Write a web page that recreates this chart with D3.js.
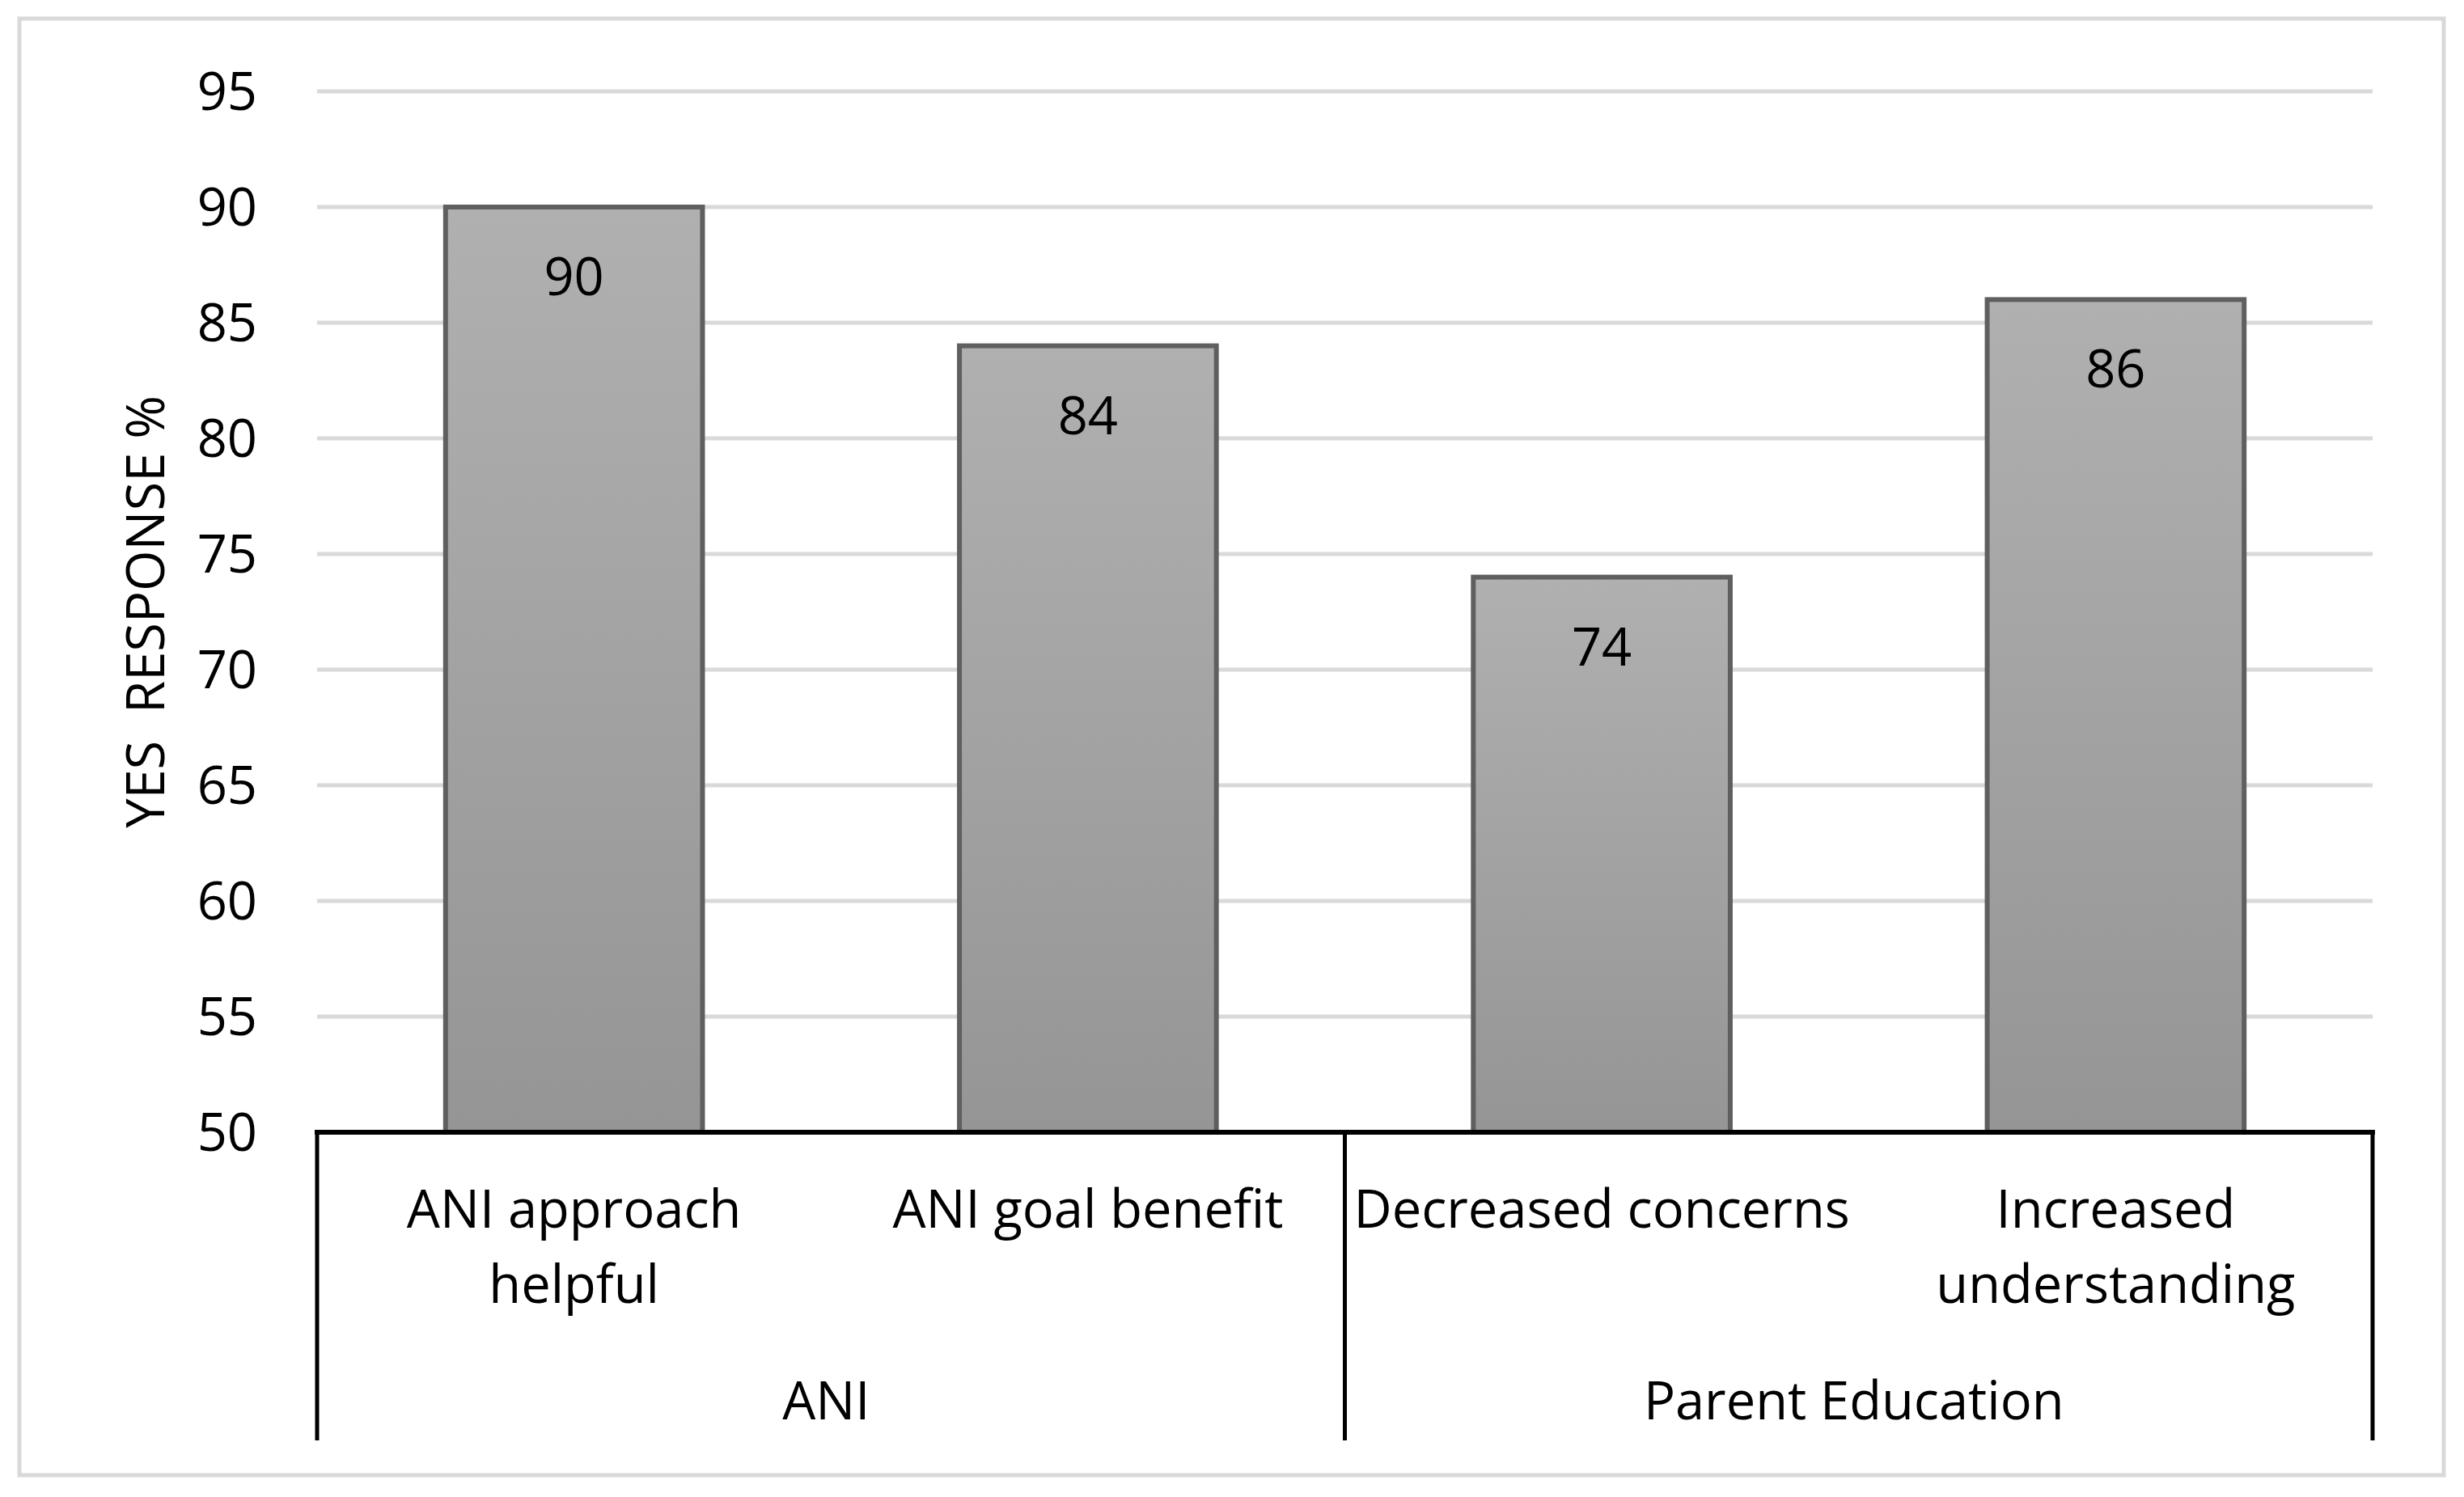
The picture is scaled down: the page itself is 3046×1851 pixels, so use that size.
<!DOCTYPE html>
<html>
<head>
<meta charset="utf-8">
<script src="https://cdn.jsdelivr.net/npm/d3@7"></script>
<style>
  body { margin: 0; background: #fff; }
  text { font-family: "Open Sans", "Noto Sans", sans-serif; fill: #000; }
</style>
</head>
<body>
<script>
// chart data
var categories = [
  ['ANI approach', 'helpful'],
  ['ANI goal benefit'],
  ['Decreased concerns'],
  ['Increased', 'understanding']
];
var values = [90, 84, 74, 86];
var groups = ['ANI', 'Parent Education'];
var groupSizes = [2, 2];
var yTicks = [50, 55, 60, 65, 70, 75, 80, 85, 90, 95];
var yTitle = 'YES  RESPONSE %';

var W = 3046, H = 1851;
var plotLeft = 392, plotRight = 2933, plotTop = 113, plotBottom = 1400;
var fontSize = 65;

var svg = d3.select('body').append('svg')
  .attr('width', W).attr('height', H);

var defs = svg.append('defs');
var grad = defs.append('linearGradient')
  .attr('id', 'barGrad')
  .attr('x1', 0).attr('y1', 0).attr('x2', 0).attr('y2', 1);
grad.append('stop').attr('offset', '0%').attr('stop-color', '#b0b0b0');
grad.append('stop').attr('offset', '100%').attr('stop-color', '#959595');

// outer frame
svg.append('rect')
  .attr('x', 24).attr('y', 23)
  .attr('width', 2997).attr('height', 1801)
  .attr('fill', 'none')
  .attr('stroke', '#d9d9d9')
  .attr('stroke-width', 5);

var y = d3.scaleLinear().domain([50, 95]).range([plotBottom, plotTop]);
var x = d3.scaleBand()
  .domain(d3.range(categories.length))
  .range([plotLeft, plotRight])
  .paddingInner(0.5)
  .paddingOuter(0.25);
var step = x.step();

// gridlines
svg.append('g')
  .selectAll('line')
  .data(yTicks.slice(1))
  .enter()
  .append('line')
  .attr('x1', plotLeft).attr('x2', plotRight)
  .attr('y1', function(d) { return y(d); })
  .attr('y2', function(d) { return y(d); })
  .attr('stroke', '#d9d9d9')
  .attr('stroke-width', 5);

// y tick labels
var yAxis = d3.axisLeft(y).tickValues(yTicks).tickSize(0).tickPadding(0);
var yg = svg.append('g')
  .attr('transform', 'translate(318,0)')
  .call(yAxis);
yg.select('.domain').remove();
yg.selectAll('text')
  .attr('font-size', fontSize)
  .attr('font-family', '"Open Sans", sans-serif')
  .attr('fill', '#000')
  .attr('dy', '0.35em');

// y axis title
svg.append('text')
  .attr('transform', 'translate(203,' + ((plotTop + plotBottom) / 2) + ') rotate(-90)')
  .attr('text-anchor', 'middle')
  .attr('font-size', fontSize)
  .style('white-space', 'pre')
  .text(yTitle);

// bars
svg.append('g')
  .selectAll('rect')
  .data(values)
  .enter()
  .append('rect')
  .attr('x', function(d, i) { return x(i); })
  .attr('y', function(d) { return y(d); })
  .attr('width', x.bandwidth())
  .attr('height', function(d) { return y(50) - y(d); })
  .attr('fill', 'url(#barGrad)')
  .attr('stroke', '#5f5f5f')
  .attr('stroke-width', 6);

// value labels
svg.append('g')
  .selectAll('text')
  .data(values)
  .enter()
  .append('text')
  .attr('x', function(d, i) { return x(i) + x.bandwidth() / 2; })
  .attr('y', function(d) { return y(d) + 109; })
  .attr('text-anchor', 'middle')
  .attr('font-size', fontSize)
  .text(function(d) { return d; });

// axis line
svg.append('line')
  .attr('x1', plotLeft - 3).attr('x2', plotRight + 3)
  .attr('y1', plotBottom).attr('y2', plotBottom)
  .attr('stroke', '#000')
  .attr('stroke-width', 6);

// group separators
var sepIdx = [0];
groupSizes.reduce(function(acc, n) { sepIdx.push(acc + n); return acc + n; }, 0);
svg.append('g')
  .selectAll('line')
  .data(sepIdx)
  .enter()
  .append('line')
  .attr('x1', function(d) { return plotLeft + d * step; })
  .attr('x2', function(d) { return plotLeft + d * step; })
  .attr('y1', plotBottom)
  .attr('y2', 1781)
  .attr('stroke', '#000')
  .attr('stroke-width', 5);

// category labels
var cat = svg.append('g')
  .selectAll('text')
  .data(categories)
  .enter()
  .append('text')
  .attr('text-anchor', 'middle')
  .attr('font-size', fontSize);
cat.selectAll('tspan')
  .data(function(d, i) { return d.map(function(s) { return { s: s, i: i }; }); })
  .enter()
  .append('tspan')
  .attr('x', function(d) { return x(d.i) + x.bandwidth() / 2; })
  .attr('y', function(d, j) { return 1518 + j * 93; })
  .text(function(d) { return d.s; });

// group labels
var start = 0;
groups.forEach(function(g, k) {
  var cx = plotLeft + (start + groupSizes[k] / 2) * step;
  svg.append('text')
    .attr('x', cx - 6)
    .attr('y', 1755)
    .attr('text-anchor', 'middle')
    .attr('font-size', fontSize)
    .text(g);
  start += groupSizes[k];
});
</script>
</body>
</html>
